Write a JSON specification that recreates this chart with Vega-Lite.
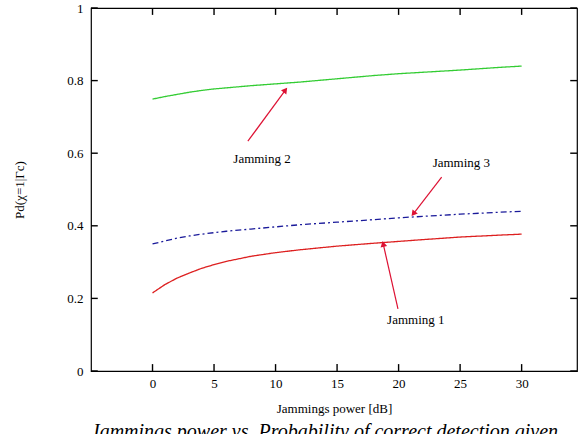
{
  "$schema": "https://vega.github.io/schema/vega-lite/v6.json",
  "autosize": {"type": "none"},
  "width": 486,
  "height": 363,
  "padding": {"left": 91, "top": 8, "right": 1, "bottom": 63},
  "background": "white",
  "title": {
    "text": "Jammings power vs. Probability of correct detection given",
    "orient": "bottom",
    "anchor": "start",
    "frame": "bounds",
    "offset": 7,
    "dx": 77,
    "font": "Liberation Serif",
    "fontSize": 20,
    "fontStyle": "italic",
    "fontWeight": "normal",
    "color": "black",
    "baseline": "top"
  },
  "config": {
    "view": {"stroke": "black", "strokeWidth": 1.2},
    "axis": {
      "grid": false,
      "labelFont": "Liberation Serif",
      "labelFontSize": 13,
      "labelColor": "black",
      "titleFont": "Liberation Serif",
      "titleFontSize": 13,
      "titleFontWeight": "normal",
      "titleColor": "black"
    }
  },
  "datasets": {
    "curves": [
      {"x": 0, "p": 0.215, "series": "Jamming 1"},
      {"x": 1, "p": 0.238, "series": "Jamming 1"},
      {"x": 2, "p": 0.256, "series": "Jamming 1"},
      {"x": 3, "p": 0.27, "series": "Jamming 1"},
      {"x": 4, "p": 0.283, "series": "Jamming 1"},
      {"x": 5, "p": 0.293, "series": "Jamming 1"},
      {"x": 6, "p": 0.302, "series": "Jamming 1"},
      {"x": 8, "p": 0.316, "series": "Jamming 1"},
      {"x": 10, "p": 0.326, "series": "Jamming 1"},
      {"x": 12, "p": 0.334, "series": "Jamming 1"},
      {"x": 15, "p": 0.344, "series": "Jamming 1"},
      {"x": 18, "p": 0.352, "series": "Jamming 1"},
      {"x": 20, "p": 0.357, "series": "Jamming 1"},
      {"x": 22, "p": 0.362, "series": "Jamming 1"},
      {"x": 25, "p": 0.369, "series": "Jamming 1"},
      {"x": 28, "p": 0.374, "series": "Jamming 1"},
      {"x": 30, "p": 0.377, "series": "Jamming 1"},
      {"x": 0, "p": 0.749, "series": "Jamming 2"},
      {"x": 1, "p": 0.756, "series": "Jamming 2"},
      {"x": 2, "p": 0.762, "series": "Jamming 2"},
      {"x": 3, "p": 0.768, "series": "Jamming 2"},
      {"x": 4, "p": 0.773, "series": "Jamming 2"},
      {"x": 5, "p": 0.777, "series": "Jamming 2"},
      {"x": 6, "p": 0.78, "series": "Jamming 2"},
      {"x": 8, "p": 0.786, "series": "Jamming 2"},
      {"x": 10, "p": 0.791, "series": "Jamming 2"},
      {"x": 12, "p": 0.796, "series": "Jamming 2"},
      {"x": 15, "p": 0.805, "series": "Jamming 2"},
      {"x": 18, "p": 0.814, "series": "Jamming 2"},
      {"x": 20, "p": 0.819, "series": "Jamming 2"},
      {"x": 22, "p": 0.823, "series": "Jamming 2"},
      {"x": 25, "p": 0.829, "series": "Jamming 2"},
      {"x": 28, "p": 0.836, "series": "Jamming 2"},
      {"x": 30, "p": 0.84, "series": "Jamming 2"},
      {"x": 0, "p": 0.35, "series": "Jamming 3"},
      {"x": 1, "p": 0.358, "series": "Jamming 3"},
      {"x": 2, "p": 0.366, "series": "Jamming 3"},
      {"x": 3, "p": 0.372, "series": "Jamming 3"},
      {"x": 4, "p": 0.377, "series": "Jamming 3"},
      {"x": 5, "p": 0.381, "series": "Jamming 3"},
      {"x": 6, "p": 0.385, "series": "Jamming 3"},
      {"x": 8, "p": 0.391, "series": "Jamming 3"},
      {"x": 10, "p": 0.397, "series": "Jamming 3"},
      {"x": 12, "p": 0.403, "series": "Jamming 3"},
      {"x": 15, "p": 0.41, "series": "Jamming 3"},
      {"x": 18, "p": 0.417, "series": "Jamming 3"},
      {"x": 20, "p": 0.422, "series": "Jamming 3"},
      {"x": 22, "p": 0.426, "series": "Jamming 3"},
      {"x": 25, "p": 0.432, "series": "Jamming 3"},
      {"x": 28, "p": 0.437, "series": "Jamming 3"},
      {"x": 30, "p": 0.44, "series": "Jamming 3"}
    ],
    "notes": [
      {"label": "Jamming 1", "tx": 21.4, "ty": 0.14, "x1": 19.95, "y1": 0.171, "x2": 18.75, "y2": 0.35, "dir": 347},
      {"label": "Jamming 2", "tx": 8.9, "ty": 0.585, "x1": 7.75, "y1": 0.633, "x2": 10.8, "y2": 0.774, "dir": 37},
      {"label": "Jamming 3", "tx": 25.1, "ty": 0.573, "x1": 23.5, "y1": 0.534, "x2": 21.2, "y2": 0.433, "dir": 218}
    ],
    "xticks": [{"v": 0}, {"v": 5}, {"v": 10}, {"v": 15}, {"v": 20}, {"v": 25}, {"v": 30}],
    "yticks": [{"v": 0}, {"v": 0.2}, {"v": 0.4}, {"v": 0.6}, {"v": 0.8}, {"v": 1}]
  },
  "layer": [
    {
      "data": {"name": "curves"},
      "mark": {"type": "line", "strokeWidth": 1.3},
      "encoding": {
        "x": {
          "field": "x", "type": "quantitative",
          "scale": {"domain": [-5, 34.5], "nice": false, "zero": false},
          "axis": {"orient": "bottom", "values": [0, 5, 10, 15, 20, 25, 30], "domain": false, "ticks": false, "title": "Jammings power [dB]", "labelPadding": 6, "titlePadding": 12}
        },
        "y": {
          "field": "p", "type": "quantitative",
          "scale": {"domain": [0, 1], "nice": false},
          "axis": {"orient": "left", "values": [0, 0.2, 0.4, 0.6, 0.8, 1], "format": ".1~f", "domain": false, "ticks": false, "title": "Pd(χ=1|Γc)", "labelPadding": 8, "titlePadding": 40}
        },
        "color": {
          "field": "series", "type": "nominal",
          "scale": {"domain": ["Jamming 1", "Jamming 2", "Jamming 3"], "range": ["#dd2020", "#33cc33", "#1a1a9a"]},
          "legend": null
        },
        "strokeDash": {
          "field": "series", "type": "nominal",
          "scale": {"domain": ["Jamming 1", "Jamming 2", "Jamming 3"], "range": [[1, 0], [1, 0], [6, 3, 2, 3]]},
          "legend": null
        }
      }
    },
    {
      "data": {"name": "xticks"},
      "mark": {"type": "rule", "color": "black", "strokeWidth": 1.4},
      "encoding": {
        "x": {"field": "v", "type": "quantitative"},
        "y": {"datum": 0, "type": "quantitative"},
        "y2": {"datum": 0.019}
      }
    },
    {
      "data": {"name": "xticks"},
      "mark": {"type": "rule", "color": "black", "strokeWidth": 1.4},
      "encoding": {
        "x": {"field": "v", "type": "quantitative"},
        "y": {"datum": 1, "type": "quantitative"},
        "y2": {"datum": 0.981}
      }
    },
    {
      "data": {"name": "yticks"},
      "mark": {"type": "rule", "color": "black", "strokeWidth": 1.4},
      "encoding": {
        "y": {"field": "v", "type": "quantitative"},
        "x": {"datum": -5, "type": "quantitative"},
        "x2": {"datum": -4.45}
      }
    },
    {
      "data": {"name": "yticks"},
      "mark": {"type": "rule", "color": "black", "strokeWidth": 1.4},
      "encoding": {
        "y": {"field": "v", "type": "quantitative"},
        "x": {"datum": 34.5, "type": "quantitative"},
        "x2": {"datum": 33.95}
      }
    },
    {
      "data": {"name": "notes"},
      "mark": {"type": "rule", "color": "#dd1133", "strokeWidth": 1.2},
      "encoding": {
        "x": {"field": "x1", "type": "quantitative"},
        "y": {"field": "y1", "type": "quantitative"},
        "x2": {"field": "x2"},
        "y2": {"field": "y2"}
      }
    },
    {
      "data": {"name": "notes"},
      "mark": {"type": "point", "shape": "triangle-up", "filled": true, "color": "#dd1133", "size": 45, "opacity": 1},
      "encoding": {
        "x": {"field": "x2", "type": "quantitative"},
        "y": {"field": "y2", "type": "quantitative"},
        "angle": {"field": "dir", "type": "quantitative", "scale": null}
      }
    },
    {
      "data": {"name": "notes"},
      "mark": {"type": "text", "font": "Liberation Serif", "fontSize": 13, "color": "black", "align": "center", "baseline": "middle"},
      "encoding": {
        "x": {"field": "tx", "type": "quantitative"},
        "y": {"field": "ty", "type": "quantitative"},
        "text": {"field": "label"}
      }
    }
  ]
}
